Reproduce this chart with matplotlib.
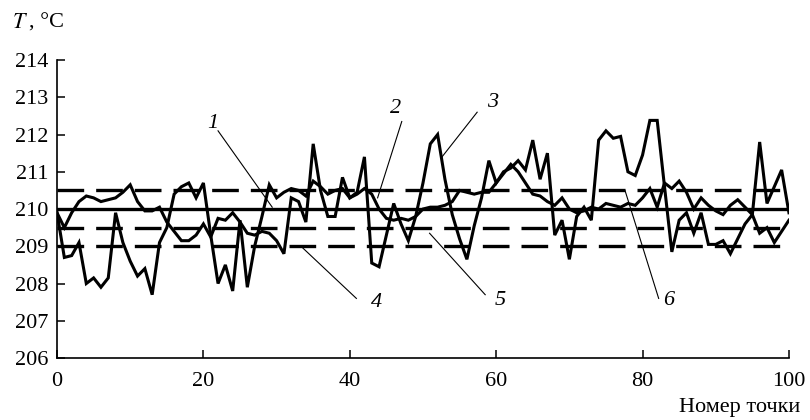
import matplotlib
matplotlib.use("Agg")
import matplotlib.pyplot as plt
import numpy as np

plt.rcParams['font.family'] = ['Liberation Serif', 'DejaVu Serif']

x_points = list(range(0, 101))

series_a = [209.9, 209.5, 209.9, 210.2, 210.35, 210.3, 210.2, 210.25, 210.3, 210.45,
            210.65, 210.2, 209.95, 209.95, 210.05, 209.65, 209.4, 209.15, 209.15, 209.3,
            209.6, 209.25, 209.75, 209.7, 209.9, 209.65, 209.35, 209.3, 209.4, 209.35,
            209.15, 208.8, 210.3, 210.2, 209.65, 211.75, 210.5, 209.8, 209.8, 210.85,
            210.3, 210.45, 211.4, 208.55, 208.45, 209.3, 210.15, 209.6, 209.15, 209.8,
            210.7, 211.75, 212.0, 210.8, 209.85, 209.2, 208.65, 209.55, 210.3, 211.3,
            210.7, 211.0, 211.1, 211.3, 211.05, 211.85, 210.8, 211.5, 209.3, 209.7,
            208.65, 209.8, 210.05, 209.7, 211.85, 212.1, 211.9, 211.95, 211.0, 210.9,
            211.45, 212.38, 212.38, 210.6, 208.85, 209.7, 209.9, 209.35, 209.9, 209.05,
            209.05, 209.15, 208.8, 209.2, 209.6, 209.85, 209.35, 209.5, 209.1, 209.4,
            209.7]

series_b = [209.9, 208.7, 208.75, 209.1, 208.0, 208.15, 207.9, 208.15, 209.9, 209.1,
            208.6, 208.2, 208.4, 207.7, 209.1, 209.5, 210.4, 210.6, 210.7, 210.3,
            210.7, 209.3, 208.0, 208.5, 207.8, 209.7, 207.9, 209.0, 209.8, 210.65,
            210.3, 210.45, 210.55, 210.5, 210.35, 210.75, 210.6, 210.4, 210.5, 210.55,
            210.3, 210.4, 210.55, 210.4, 210.0, 209.75, 209.7, 209.75, 209.7, 209.8,
            210.0, 210.05, 210.05, 210.1, 210.2, 210.5, 210.45, 210.4, 210.45, 210.45,
            210.7, 210.95, 211.2, 211.0, 210.7, 210.4, 210.35, 210.2, 210.1, 210.3,
            210.0, 209.9, 209.95, 210.05, 210.0, 210.15, 210.1, 210.05, 210.15, 210.1,
            210.3, 210.55, 210.05, 210.7, 210.55, 210.75, 210.45, 210.0, 210.3, 210.1,
            209.95, 209.85, 210.1, 210.25, 210.05, 209.85, 211.8, 210.15, 210.6, 211.05,
            209.9]

setpoint = 210.0
dashed_levels = [210.5, 209.5, 209.0]

labels = ['1', '2', '3', '4', '5', '6']
# (text x, text y, leader start x, y, leader end x, y) in data coordinates
label_pos = [
    (21.3, 212.3, 22.0, 212.1, 29.4, 210.05),
    (46.2, 212.7, 47.1, 212.35, 43.8, 210.3),
    (59.5, 212.85, 57.4, 212.6, 52.6, 211.4),
    (43.7, 207.5, 40.9, 207.6, 33.6, 208.95),
    (60.5, 207.55, 58.5, 207.7, 50.9, 209.35),
    (83.6, 207.55, 82.2, 207.6, 77.6, 210.5),
]

fig = plt.figure(figsize=(8.1, 4.2), dpi=100)
ax = fig.add_axes([0.0704, 0.1476, 0.9036, 0.7094])

ax.axhline(setpoint, xmin=0, xmax=1, color='black', lw=2.4)
for lv in dashed_levels:
    ax.plot([0, 100], [lv, lv], color='black', lw=2.4, linestyle=(0, (8.0, 3.6)))

ax.plot(x_points, series_a, color='black', lw=2.2, solid_joinstyle='miter')
ax.plot(x_points, series_b, color='black', lw=2.2, solid_joinstyle='miter')

for lab, (tx, ty, x1, y1, x2, y2) in zip(labels, label_pos):
    ax.plot([x1, x2], [y1, y2], color='black', lw=0.8)
    ax.text(tx, ty, lab, fontsize=16, style='italic', ha='center', va='center')

ax.set_xlim(0, 100)
ax.set_ylim(206, 214)
ax.set_xticks([0, 20, 40, 60, 80, 100])
ax.set_yticks(list(range(206, 215)))
ax.spines['top'].set_visible(False)
ax.spines['right'].set_visible(False)
ax.spines['left'].set_linewidth(1.2)
ax.spines['bottom'].set_linewidth(1.2)
ax.tick_params(direction='in', length=6, width=1.1, labelsize=16)
ax.tick_params(axis='x', pad=10)
ax.tick_params(axis='y', pad=6)

fig.text(0.015, 0.945, r'$T$', fontsize=16, ha='left', va='center',
         math_fontfamily='stix')
fig.text(0.036, 0.945, ', °C', fontsize=16, ha='left', va='center')
fig.text(0.988, 0.03, 'Номер точки', fontsize=16, ha='right', va='center')

fig.savefig('out.png', dpi=100)
